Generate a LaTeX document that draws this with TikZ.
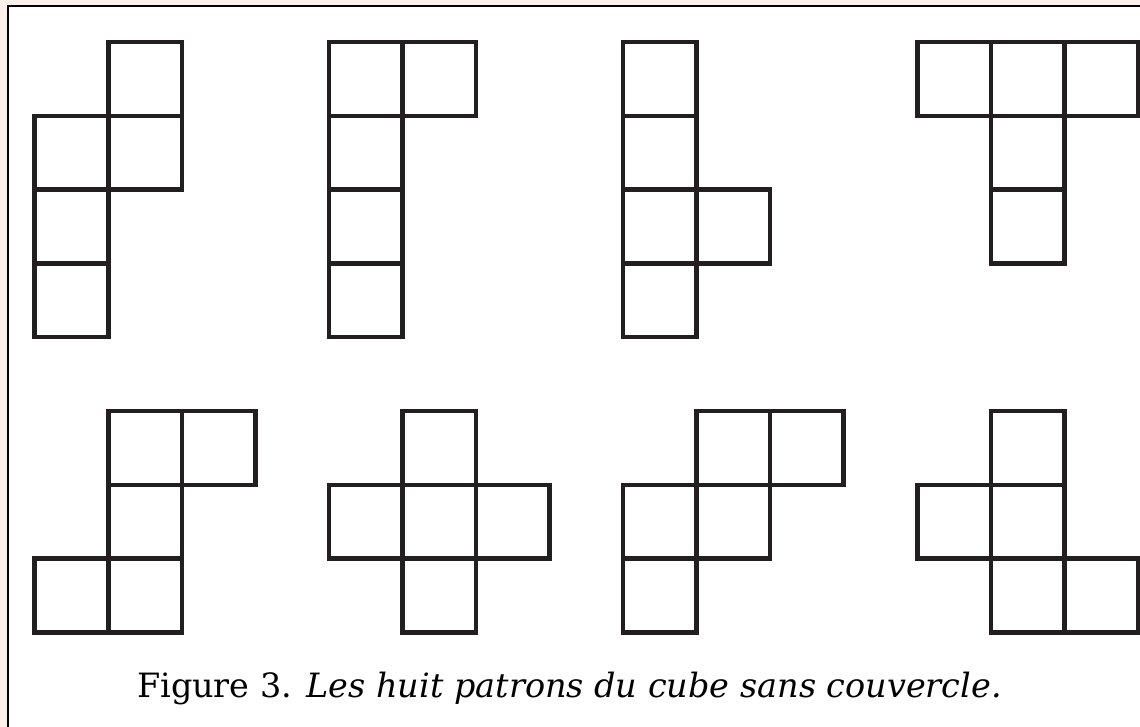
\documentclass[tikz,border=0pt]{standalone}
\usepackage{fontspec}
\setmainfont{DejaVu Serif}
\definecolor{bgpink}{RGB}{253,240,235}
\definecolor{ink}{RGB}{35,31,32}
\begin{document}
\begin{tikzpicture}[x=0.75pt,y=-0.75pt,
  net/.style={draw=ink,line width=3.4pt},
  frame/.style={fill=white,draw=black,line width=1.9pt}]
\useasboundingbox (0,0) rectangle (1140,727);
\fill[bgpink] (0,0) rectangle (1140,727);
\clip (0,0) rectangle (1140,727);
\filldraw[frame] (8,6) rectangle (1160,745);
\begin{scope}[shift={(26.025pt,-31.5pt)}, x=55.1625pt, y=-55.35pt]
  \foreach \c/\r in {
    1/0,0/1,1/1,0/2,0/3,
    4/0,5/0,4/1,4/2,4/3,
    8/0,8/1,8/2,9/2,8/3,
    12/0,13/0,14/0,13/1,13/2,
    1/5,2/5,1/6,0/7,1/7,
    5/5,4/6,5/6,6/6,5/7,
    9/5,10/5,8/6,9/6,8/7,
    13/5,12/6,13/6,13/7,14/7}
    \draw[net] (\c,\r) rectangle ++(1,1);
\end{scope}
\node[font=\fontsize{25.1}{30}\selectfont, anchor=base, inner sep=0pt] (caption) at (569.5,697)
  {Figure 3. \textit{Les huit patrons du cube sans couvercle.}};
\end{tikzpicture}
\end{document}
